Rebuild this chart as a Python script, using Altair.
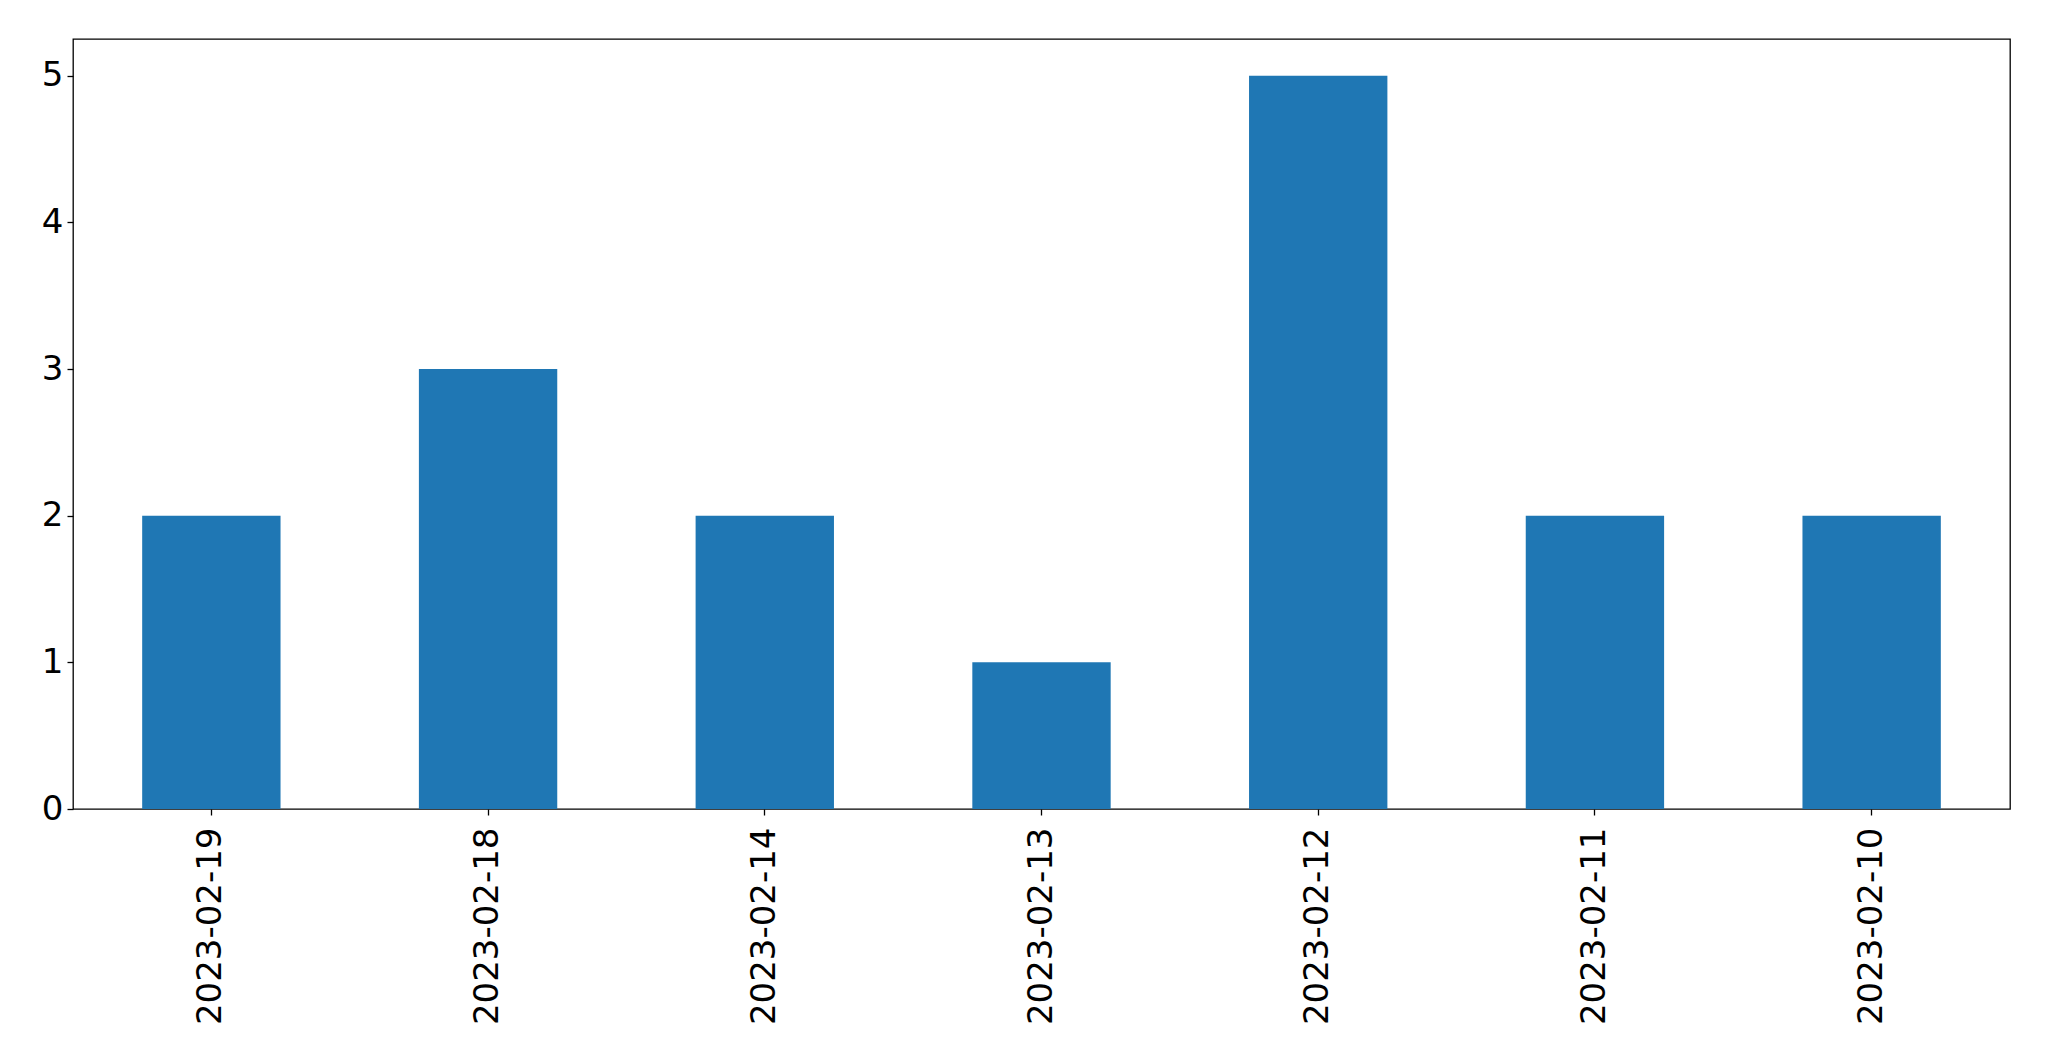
import altair as alt
import pandas as pd

dates = ["2023-02-19", "2023-02-18", "2023-02-14", "2023-02-13", "2023-02-12", "2023-02-11", "2023-02-10"]
counts = [2, 3, 2, 1, 5, 2, 2]
y_ticks = [0, 1, 2, 3, 4, 5]

df = pd.DataFrame({"date": dates, "count": counts})

chart = alt.Chart(df).mark_bar(color="#1f77b4").encode(
    x=alt.X("date:N", sort=dates,
            scale=alt.Scale(paddingInner=0.5, paddingOuter=0.25),
            axis=alt.Axis(title=None, labelAngle=270, labelAlign="right", labelBaseline="middle",
                          labelFontSize=34, labelFont="DejaVu Sans", labelColor="black",
                          labelLimit=0,
                          tickColor="black", tickSize=6, tickWidth=1.3, labelPadding=12,
                          domain=False, grid=False)),
    y=alt.Y("count:Q",
            scale=alt.Scale(domain=[0, 5.25], nice=False, zero=True),
            axis=alt.Axis(title=None, values=y_ticks, format="d",
                          labelFontSize=34, labelFont="DejaVu Sans", labelColor="black",
                          tickColor="black", tickSize=6, tickWidth=1.3, labelPadding=4,
                          domain=False, grid=False)),
).properties(
    width=1937, height=770,
    autosize=alt.AutoSizeParams(type="none"),
    padding={"left": 65, "top": 31, "right": 25, "bottom": 240},
).configure_view(stroke="black", strokeWidth=1.3)

chart.save("out.html", embed_options={"renderer": "svg", "actions": False})
